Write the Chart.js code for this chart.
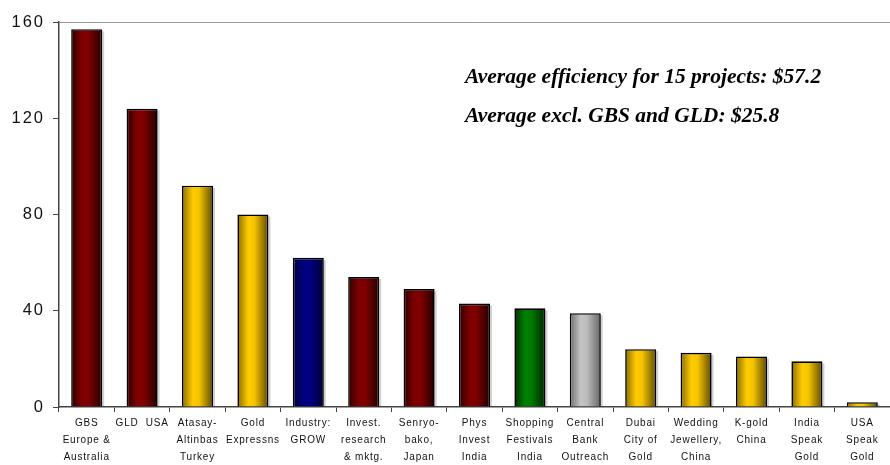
<!DOCTYPE html>
<html>
<head>
<meta charset="utf-8">
<title>Project efficiency</title>
<script src="https://cdn.jsdelivr.net/npm/chart.js"></script>
<style>
    html, body { margin: 0; padding: 0; background: #fff; }
    #wrap { width: 890px; height: 465px; }
</style>
</head>
<body>
<div id="wrap"><canvas id="mainChart" width="890" height="465"></canvas></div>
<script>
// categories (multi-line labels as drawn under the bars)
const projects = [
    ['GBS', 'Europe &', 'Australia'],
    ['GLD  USA'],
    ['Atasay-', 'Altinbas', 'Turkey'],
    ['Gold', 'Expressns'],
    ['Industry:', 'GROW'],
    ['Invest.', 'research', '& mktg.'],
    ['Senryo-', 'bako,', 'Japan'],
    ['Phys', 'Invest', 'India'],
    ['Shopping', 'Festivals', 'India'],
    ['Central', 'Bank', 'Outreach'],
    ['Dubai', 'City of', 'Gold'],
    ['Wedding', 'Jewellery,', 'China'],
    ['K-gold', 'China'],
    ['India', 'Speak', 'Gold'],
    ['USA', 'Speak', 'Gold']
];
const efficiency = [157, 124, 92, 80, 62, 54, 49, 43, 41, 39, 24, 22.5, 21, 19, 2];
const yTicks = [0, 40, 80, 120, 160];
const notes = [
    'Average efficiency for 15 projects: $57.2',
    'Average excl. GBS and GLD: $25.8'
];

// colour family per bar
const barKind = ['red', 'red', 'gold', 'gold', 'blue', 'red', 'red', 'red', 'green', 'grey', 'gold', 'gold', 'gold', 'gold', 'gold'];
const shades = {
    red:   ['#2e0000', '#800000', '#800000', '#220000'],
    gold:  ['#8a6c00', '#ffcc00', '#f5c400', '#5e4a00'],
    blue:  ['#00003a', '#000080', '#000080', '#000030'],
    green: ['#003000', '#008000', '#007a00', '#002400'],
    grey:  ['#6e6e6e', '#c4c4c4', '#bcbcbc', '#666666']
};

function barFill(ctx) {
    const s = shades[barKind[ctx.dataIndex]] || shades.red;
    const chart = ctx.chart;
    const area = chart.chartArea;
    if (!area || ctx.type !== 'data') return s[1];
    const x = chart.scales.x.getPixelForValue(ctx.dataIndex);
    const w = area.width / projects.length * 0.56;
    const g = chart.ctx.createLinearGradient(x - w / 2, 0, x + w / 2, 0);
    g.addColorStop(0, s[0]);
    g.addColorStop(0.35, s[1]);
    g.addColorStop(0.55, s[2]);
    g.addColorStop(1, s[3]);
    return g;
}

// the original uses loosely spaced axis text; wrap each scale's label drawing
const spacing = { x: '0.8px', y: '2px' };
const spacingPlugin = {
    id: 'letterSpacing',
    beforeDraw(chart) {
        Object.keys(spacing).forEach(id => {
            const sc = chart.scales[id];
            if (!sc || sc._spaced) return;
            const orig = sc.drawLabels.bind(sc);
            sc.drawLabels = function (area) {
                const c = chart.ctx;
                const prev = c.letterSpacing;
                c.letterSpacing = spacing[id];
                orig(area);
                c.letterSpacing = prev || '0px';
            };
            sc._spaced = true;
        });
    }
};

// italic notes in the upper right of the plot
const notesPlugin = {
    id: 'notes',
    afterDraw(chart) {
        const c = chart.ctx, a = chart.chartArea;
        c.save();
        c.font = 'italic bold 21.5px "Liberation Serif", "Times New Roman", serif';
        c.fillStyle = '#000';
        c.textBaseline = 'middle';
        notes.forEach((t, i) => c.fillText(t, a.left + 406, a.top + 55 + i * 39));
        c.restore();
    }
};

// soft grey shadow on the right side of each bar
const shadowPlugin = {
    id: 'barShadow',
    beforeDatasetsDraw(chart) {
        const c = chart.ctx;
        const meta = chart.getDatasetMeta(0);
        c.save();
        c.fillStyle = 'rgba(0,0,0,0.18)';
        meta.data.forEach(b => {
            const w = b.width;
            c.fillRect(b.x - w / 2 + 2, b.y + 2, w, b.base - b.y - 2);
        });
        c.restore();
    }
};

new Chart(document.getElementById('mainChart'), {
    type: 'bar',
    data: {
        labels: projects,
        datasets: [{
            data: efficiency,
            backgroundColor: barFill,
            borderColor: '#000',
            borderWidth: 1.6,
            categoryPercentage: 0.56,
            barPercentage: 1
        }]
    },
    options: {
        responsive: false,
        animation: false,
        layout: { padding: { top: 22, right: 0, bottom: 0, left: 0 } },
        plugins: {
            legend: { display: false },
            tooltip: { enabled: false }
        },
        scales: {
            x: {
                grid: {
                    offset: true,
                    drawOnChartArea: false,
                    drawTicks: true,
                    tickLength: 5,
                    tickColor: '#444'
                },
                border: { color: '#444', width: 1.5 },
                ticks: {
                    color: '#111',
                    autoSkip: false,
                    maxRotation: 0,
                    padding: 3,
                    font: { family: '"Liberation Sans", Arial, sans-serif', size: 10, lineHeight: 1.7 }
                },
                afterFit(scale) { scale.height = 58; }
            },
            y: {
                min: 0,
                max: 160,
                afterBuildTicks(scale) { scale.ticks = yTicks.map(v => ({ value: v })); },
                grid: {
                    color: c => (c.tick && c.tick.value === 160 ? '#999' : 'transparent'),
                    tickColor: '#444',
                    tickLength: 6,
                    drawTicks: true
                },
                border: { color: '#444', width: 1.5 },
                ticks: {
                    color: '#111',
                    padding: 8,
                    font: { family: '"Liberation Sans", Arial, sans-serif', size: 16.5 }
                },
                afterFit(scale) { scale.width = 59; }
            }
        }
    },
    plugins: [spacingPlugin, shadowPlugin, notesPlugin]
});
</script>
</body>
</html>
